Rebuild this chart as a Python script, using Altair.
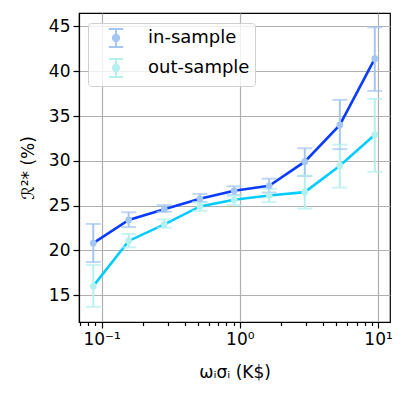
import altair as alt
import pandas as pd

x_vals = [0.087, 0.157, 0.284, 0.514, 0.91, 1.63, 2.95, 5.29, 9.47]

in_y = [20.8, 23.4, 24.6, 25.75, 26.65, 27.2, 29.9, 34.0, 41.4]
in_lo = [18.7, 22.6, 24.3, 25.4, 26.2, 26.45, 28.3, 31.3, 37.8]
in_hi = [22.95, 24.25, 25.05, 26.3, 27.15, 28.0, 31.4, 36.8, 44.9]

out_y = [16.0, 21.05, 22.9, 24.9, 25.64, 26.12, 26.5, 29.45, 32.9]
out_lo = [13.7, 20.34, 22.53, 24.4, 25.07, 25.38, 24.66, 27.0, 28.77]
out_hi = [18.36, 21.83, 23.46, 25.35, 26.08, 26.87, 28.36, 31.8, 36.9]

series_names = ["in-sample", "out-sample"]
light_colors = ["#a4c6f2", "#b4f0ee"]
dark_colors = ["#0a3cff", "#00ccff"]

x_ticks = [0.07, 0.08, 0.09, 0.1, 0.2, 0.3, 0.4, 0.5, 0.6, 0.7, 0.8, 0.9,
           1, 2, 3, 4, 5, 6, 7, 8, 9, 10]
y_ticks = [15, 20, 25, 30, 35, 40, 45]

rows = []
for name, ys, los, his in [("in-sample", in_y, in_lo, in_hi),
                           ("out-sample", out_y, out_lo, out_hi)]:
    for xv, yv, lo, hi in zip(x_vals, ys, los, his):
        rows.append({"x": xv, "y": yv, "lo": lo, "hi": hi,
                     "series": name, "line": name + " fit"})
df = pd.DataFrame(rows)

major = "indexof([0.1, 1, 10], datum.value) >= 0"
xscale = alt.Scale(type="log", domain=[0.0686, 12.2], nice=False)
yscale = alt.Scale(domain=[12.0, 46.5], nice=False, zero=False)

x_axis = alt.Axis(
    values=x_ticks,
    labelExpr="datum.value == 0.1 ? '10⁻¹' : datum.value == 1 ? '10⁰' : datum.value == 10 ? '10¹' : ''",
    tickSize={"condition": {"test": major, "value": 6}, "value": 3.5},
    gridOpacity={"condition": {"test": major, "value": 1}, "value": 0},
    labelOverlap=False,
    labelFlush=False,
    title="ωᵢσᵢ (K$)",
    titlePadding=17,
)
y_axis = alt.Axis(values=y_ticks, tickSize=6, title="ℛ²* (%)", titlePadding=11)

sym_path = ("M-0.8,-1H0.8M0,-1V1M-0.8,1H0.8"
            "M-0.35,0A0.35,0.35,0,1,0,0.35,0A0.35,0.35,0,1,0,-0.35,0Z")

color_enc = alt.Color(
    "series:N",
    scale=alt.Scale(domain=series_names, range=light_colors),
    legend=alt.Legend(
        title=None,
        orient="none",
        legendX=9,
        legendY=10,
        symbolType=sym_path,
        symbolSize=324,
        symbolStrokeWidth=2,
        symbolOpacity=1,
        labelFontSize=18,
        labelFont="DejaVu Sans",
        labelColor="black",
        labelOffset=22,
        symbolOffset=13,
        padding=5,
        rowPadding=4,
        fillColor="rgba(255,255,255,0.8)",
        strokeColor="#d0d0d0",
        cornerRadius=3,
    ),
)

X = alt.X("x:Q", scale=xscale, axis=x_axis)
Y = alt.Y("y:Q", scale=yscale, axis=y_axis)

lines = alt.Chart(df).mark_line(strokeWidth=2.6).encode(
    x=X, y=Y,
    stroke=alt.Stroke("line:N", scale=alt.Scale(domain=[s + " fit" for s in series_names], range=dark_colors), legend=None),
)
bars = alt.Chart(df).mark_rule(strokeWidth=2).encode(
    x=X, y=alt.Y("lo:Q", scale=yscale, axis=y_axis), y2="hi:Q", color=color_enc
)
cap_lo = alt.Chart(df).mark_tick(orient="horizontal", size=15, thickness=2).encode(
    x=X, y=alt.Y("lo:Q", scale=yscale, axis=y_axis), color=color_enc
)
cap_hi = alt.Chart(df).mark_tick(orient="horizontal", size=15, thickness=2).encode(
    x=X, y=alt.Y("hi:Q", scale=yscale, axis=y_axis), color=color_enc
)
points = alt.Chart(df).mark_point(filled=True, size=45, opacity=1).encode(
    x=X, y=Y, color=color_enc
)

chart = alt.layer(lines, bars, cap_lo, cap_hi, points).properties(
    width=311, height=309,
    autosize=alt.AutoSizeParams(type="none"),
    padding={"left": 71, "top": 5, "right": 10, "bottom": 60},
).configure_view(
    stroke="black", strokeWidth=1.2
).configure_axis(
    labelFont="DejaVu Sans", titleFont="DejaVu Sans",
    labelFontSize=17, titleFontSize=17, titleFontWeight="normal",
    labelColor="black", titleColor="black",
    gridColor="#b0b0b0", gridWidth=1.2,
    domainColor="black", domainWidth=1.2,
    tickColor="black", tickWidth=1.2, labelPadding=3,
)

chart.save("out.html", embed_options={"renderer": "svg", "actions": False})
